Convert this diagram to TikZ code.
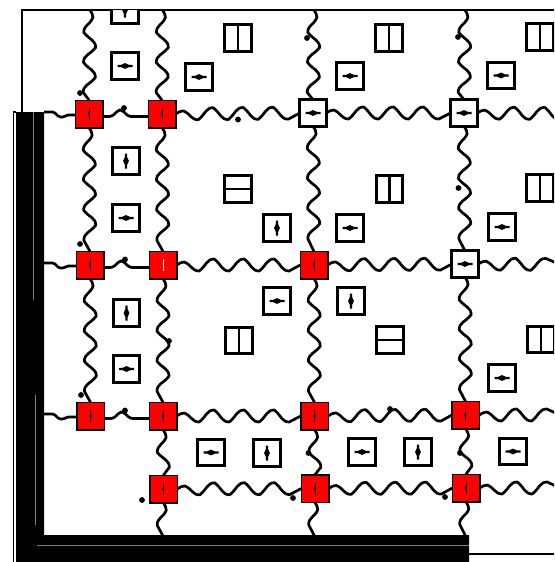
\documentclass[tikz,border=0pt]{standalone}
\usetikzlibrary{decorations}
\makeatletter
\pgfdeclaredecoration{flatwave}{first}{
  \state{first}[width=7.5pt,next state=godown]{
    \pgfpathcurveto{\pgfqpoint{3pt}{1.8pt}}{\pgfqpoint{4.5pt}{3pt}}{\pgfqpoint{7.5pt}{3pt}}}
  \state{godown}[width=15pt,next state=goup]{
    \pgfpathcurveto{\pgfqpoint{7.5pt}{0pt}}{\pgfqpoint{7.5pt}{-6pt}}{\pgfqpoint{15pt}{-6pt}}}
  \state{goup}[width=15pt,next state=godown]{
    \pgfpathcurveto{\pgfqpoint{7.5pt}{0pt}}{\pgfqpoint{7.5pt}{6pt}}{\pgfqpoint{15pt}{6pt}}}
  \state{final}{\pgfpathlineto{\pgfpointdecoratedpathlast}}
}
\makeatother
\tikzset{
  x=1pt,y=-1pt,
  wire/.style={line width=2.7pt,line join=round},
  wave/.style={wire,decorate,decoration={flatwave}},
  hump/.style={wire,rounded corners=2.5pt},
  stub/.style={wire,rounded corners=1.5pt},
  sq/.style={draw=black,line width=2.6pt,minimum size=26.5pt,inner sep=0pt,outer sep=0pt,fill=white,rectangle},
  hmark/.style={sq,path picture={
    \fill[black] ([xshift=-7.5pt,yshift=1.1pt]path picture bounding box.center) -- ([xshift=-4pt,yshift=1.1pt]path picture bounding box.center) -- ([yshift=2.9pt]path picture bounding box.center) -- ([xshift=4pt,yshift=1.1pt]path picture bounding box.center) -- ([xshift=7.5pt,yshift=1.1pt]path picture bounding box.center) -- ([xshift=7.5pt,yshift=-1.1pt]path picture bounding box.center) -- ([xshift=4pt,yshift=-1.1pt]path picture bounding box.center) -- ([yshift=-2.9pt]path picture bounding box.center) -- ([xshift=-4pt,yshift=-1.1pt]path picture bounding box.center) -- ([xshift=-7.5pt,yshift=-1.1pt]path picture bounding box.center) -- cycle;}},
  vmark/.style={sq,path picture={
    \fill[black] ([yshift=-7.5pt,xshift=1.1pt]path picture bounding box.center) -- ([yshift=-4pt,xshift=1.1pt]path picture bounding box.center) -- ([xshift=2.9pt]path picture bounding box.center) -- ([yshift=4pt,xshift=1.1pt]path picture bounding box.center) -- ([yshift=7.5pt,xshift=1.1pt]path picture bounding box.center) -- ([yshift=7.5pt,xshift=-1.1pt]path picture bounding box.center) -- ([yshift=4pt,xshift=-1.1pt]path picture bounding box.center) -- ([xshift=-2.9pt]path picture bounding box.center) -- ([yshift=-4pt,xshift=-1.1pt]path picture bounding box.center) -- ([yshift=-7.5pt,xshift=-1.1pt]path picture bounding box.center) -- cycle;}},
  splitv/.style={sq,path picture={\draw[line width=2.2pt] (path picture bounding box.north) -- (path picture bounding box.south);}},
  splith/.style={sq,path picture={\draw[line width=2.2pt] (path picture bounding box.west) -- (path picture bounding box.east);}},
  rednode/.style={sq,fill=red,line width=1.5pt,minimum size=27.5pt,path picture={
    \draw[line width=.5pt] ([yshift=-6pt]path picture bounding box.center) -- ([yshift=6pt]path picture bounding box.center);
    \fill[black] ([yshift=-3pt]path picture bounding box.center) -- ([xshift=1.1pt]path picture bounding box.center) -- ([yshift=3pt]path picture bounding box.center) -- ([xshift=-1.1pt]path picture bounding box.center) -- cycle;}},
  rednodew/.style={sq,fill=red,line width=1.5pt,minimum size=27.5pt,path picture={
    \draw[white,line width=.8pt] ([yshift=-6pt]path picture bounding box.center) -- ([yshift=6pt]path picture bounding box.center);}},
  whitenode/.style={hmark,minimum size=26.5pt},
  spot/.style={circle,fill=black,draw=none,minimum size=5.8pt,inner sep=0pt},
}
\begin{document}
\begin{tikzpicture}
\useasboundingbox (0,0) rectangle (554,562);
\clip (0,0) rectangle (554,562);
% frame
\coordinate (fa) at (22,112); \coordinate (fb) at (22,10); \coordinate (fc) at (554,10);
\coordinate (fd) at (468,554); \coordinate (fe) at (554,554);
\draw[line width=2pt] (fa) -- (fb) -- (fc);
\draw[line width=2.4pt] (fd) -- (fe);
% free ends
\coordinate (t1) at (90,10); \coordinate (t2) at (162.5,10); \coordinate (t3) at (314,10); \coordinate (t4) at (465,10);
\coordinate (b2) at (163,536); \coordinate (b3) at (314.5,536); \coordinate (b4) at (465.5,536);
\coordinate (l1) at (44,112); \coordinate (l2) at (44,263); \coordinate (l3) at (44,414);
\coordinate (r1) at (560,113.5); \coordinate (r2) at (560,264.5); \coordinate (r3) at (560,415); \coordinate (r4) at (560,488);
% junction nodes
\node[rednode] (n11) at (89,114) {};
\node[rednode] (n12) at (162,114) {};
\node[whitenode] (n13) at (313,113) {};
\node[whitenode] (n14) at (464,113) {};
\node[rednode] (n21) at (90,265) {};
\node[rednodew] (n22) at (163,265) {};
\node[rednode] (n23) at (314,265) {};
\node[whitenode] (n24) at (465,264) {};
\node[rednode] (n31) at (90.5,416) {};
\node[rednode] (n32) at (163,416) {};
\node[rednode] (n33) at (314.5,416) {};
\node[rednode] (n34) at (465.5,415) {};
\node[rednode] (n42) at (163.5,489) {};
\node[rednode] (n43) at (315,488.5) {};
\node[rednode] (n44) at (466,488) {};
% connectors
\draw[wave] (t1) -- (n11);
\draw[wave] (t2) -- (n12);
\draw[wave] (t3) -- (n13);
\draw[wave] (t4) -- (n14);
\draw[wave] (n11) -- (n21);
\draw[wave] (n12) -- (n22);
\draw[wave] (n13) -- (n23);
\draw[wave] (n14) -- (n24);
\draw[wave] (n21) -- (n31);
\draw[wave] (n22) -- (n32);
\draw[wave] (n23) -- (n33);
\draw[wave] (n24) -- (n34);
\draw[wave] (n32) -- (n42);
\draw[wave] (n33) -- (n43);
\draw[wave] (n34) -- (n44);
\draw[wave] (n42) -- (b2);
\draw[wave] (n43) -- (b3);
\draw[wave] (n44) -- (b4);
\draw[stub] (l1) -- ++(10,0) -- ++(5,5) -- ++(5,0) -- ++(3,-2) -- ([yshift=-1pt]n11.west);
\draw[stub] (l2) -- ++(10,0) -- ++(5,5) -- ++(5,0) -- ++(3,-2) -- ([yshift=-1pt]n21.west);
\draw[stub] (l3) -- ++(10,0) -- ++(5,5) -- ++(5,0) -- ++(3,-2) -- ([yshift=-1pt]n31.west);
\draw[hump] ([yshift=-2.5pt]n11.east) -- ++(9,0) -- ++(7,-6.5) -- ++(3,0) -- ++(7,6.5) -- ([yshift=-2.5pt]n12.west);
\draw[hump] ([yshift=-2.5pt]n21.east) -- ++(9,0) -- ++(7,-6.5) -- ++(3,0) -- ++(7,6.5) -- ([yshift=-2.5pt]n22.west);
\draw[hump] ([yshift=-2.5pt]n31.east) -- ++(9,0) -- ++(7,-6.5) -- ++(3,0) -- ++(7,6.5) -- ([yshift=-2.5pt]n32.west);
\draw[wave] (n12) -- (n13);
\draw[wave] (n13) -- (n14);
\draw[wave] (n14) -- (r1);
\draw[wave] (n22) -- (n23);
\draw[wave] (n23) -- (n24);
\draw[wave] (n24) -- (r2);
\draw[wave] (n32) -- (n33);
\draw[wave] (n33) -- (n34);
\draw[wave] (n34) -- (r3);
\draw[wave] (n42) -- (n43);
\draw[wave] (n43) -- (n44);
\draw[wave] (n44) -- (r4);
% small boxes
\begin{scope}
\clip (23,10.7) rectangle (554,562);
\node[vmark] (v0) at (125,10) {};
\end{scope}
\node[hmark] (h1) at (125,66) {};
\node[hmark] (h2) at (199,77) {};
\node[hmark] (h3) at (350,76) {};
\node[hmark] (h4) at (501,75.5) {};
\node[hmark] (h5) at (126,218) {};
\node[hmark] (h6) at (350,228) {};
\node[hmark] (h7) at (502,227) {};
\node[hmark] (h8) at (277,301) {};
\node[hmark] (h9) at (126.5,369) {};
\node[hmark] (h10) at (211,452.5) {};
\node[hmark] (h11) at (362,452) {};
\node[hmark] (h12) at (513,451.5) {};
\node[hmark] (h13) at (502,378) {};
\node[vmark] (v1) at (126,161) {};
\node[vmark] (v2) at (277,228) {};
\node[vmark] (v3) at (126.5,313) {};
\node[vmark] (v4) at (351,301) {};
\node[vmark] (v5) at (267,453) {};
\node[vmark] (v6) at (418,452) {};
\node[splitv] (s1) at (238,38) {};
\node[splitv] (s2) at (389,38) {};
\node[splitv] (s3) at (540,37) {};
\node[splitv] (s4) at (389.5,189) {};
\node[splitv] (s5) at (540,188) {};
\node[splitv] (s6) at (239,340.5) {};
\node[splitv] (s7) at (541,339.5) {};
\node[splith] (s8) at (238,189) {};
\node[splith] (s9) at (390,340) {};
% dots
\foreach \n/\p in {d1/{80,93},d2/{124,108},d3/{238,119.5},d4/{307,38},d5/{458,37},d6/{80,244},d7/{125,259.5},d8/{458.5,188},d9/{169,341},d10/{81,395},d11/{125,410.5},d12/{390,409},d13/{308.5,453},d14/{460,453},d15/{142,500},d16/{293,498},d17/{445,497}}
  {\node[spot] (\n) at (\p) {};}
% heavy band
\fill[black] (16,112) -- (44,112) -- (44,535) -- (469,535) -- (469,562) -- (16,562) -- cycle;
\draw[gray,line width=.25pt] (33.5,112) -- (33.5,300);
\draw[gray,line width=.25pt] (35.5,395) -- (35.5,525);
\draw[gray,line width=.25pt] (37,545) -- (469,545);
\draw[line width=1.3pt] (13.5,562) -- (13.5,112) -- (16,112);
\end{tikzpicture}
\end{document}
